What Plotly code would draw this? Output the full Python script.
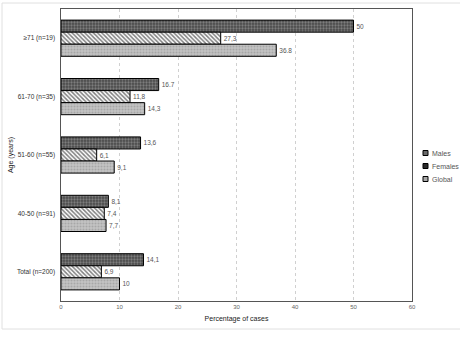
import plotly.graph_objects as go

categories = ["≥71 (n=19)", "61-70 (n=35)", "51-60 (n=55)", "40-50 (n=91)", "Total (n=200)"]
series_names = ["Males", "Females", "Global"]
males = [50, 16.7, 13.6, 8.1, 14.1]
females = [27.3, 11.8, 6.1, 7.4, 6.9]
global_ = [36.8, 14.3, 9.1, 7.7, 10]
males_lbl = ["50", "16.7", "13,6", "8,1", "14,1"]
females_lbl = ["27,3", "11,8", "6,1", "7,4", "6,9"]
global_lbl = ["36.8", "14,3", "9,1", "7,7", "10"]
x_ticks = [0, 10, 20, 30, 40, 50, 60]

FONT = "Liberation Sans"
fig = go.Figure()
patterns = [
    dict(shape=".", bgcolor="#4a4a4a", fgcolor="#b0b0b0", size=3, solidity=0.45),
    dict(shape="\\", bgcolor="#ffffff", fgcolor="#000000", size=3, solidity=0.5),
    dict(shape=".", bgcolor="#c4c4c4", fgcolor="#8a8a8a", size=3, solidity=0.4),
]
legend_fill = ["#6a6a6a", "#2a2a2a", "#a8a8a8"]
for name, vals, lbl, pat in zip(series_names, [males, females, global_],
                                [males_lbl, females_lbl, global_lbl], patterns):
    fig.add_trace(go.Bar(
        y=categories, x=vals, name=name, orientation="h",
        text=lbl, textposition="outside", cliponaxis=False, showlegend=False,
        textfont=dict(size=6.5, color="#555555", family=FONT),
        marker=dict(color=pat["bgcolor"], pattern=pat, line=dict(color="#000000", width=1)),
    ))

# custom compact legend (small squares + labels), as in the reference
PW, PH = 351.0, 292.0
shapes = [dict(type="rect", xref="paper", yref="paper",
               x0=-59 / PW, x1=1.2, y0=-28 / PH, y1=1 + 6 / PH,
               line=dict(color="#e0e0e0", width=1), layer="below")]
annotations = []
leg_y = [153, 166, 179]  # pixel centres
for name, col, py in zip(series_names, legend_fill, leg_y):
    yc = (301 - py) / PH
    shapes.append(dict(type="rect", xref="paper", yref="paper",
                       x0=(423 - 61) / PW, x1=(428 - 61) / PW,
                       y0=yc - 2.5 / PH, y1=yc + 2.5 / PH,
                       fillcolor=col, line=dict(color="#000000", width=1)))
    annotations.append(dict(xref="paper", yref="paper", x=(430 - 61) / PW, y=yc,
                            xanchor="left", yanchor="middle", showarrow=False,
                            text=name, font=dict(size=7, color="#555555", family=FONT)))

fig.update_layout(
    width=460, height=338,
    margin=dict(l=61, r=48, t=9, b=37, autoexpand=False),
    paper_bgcolor="white", plot_bgcolor="white",
    barmode="group", bargap=0.38, bargroupgap=0,
    font=dict(family=FONT, size=7, color="#555555"),
    showlegend=False,
    xaxis=dict(range=[0, 60], tickvals=x_ticks, showgrid=True, gridcolor="#d0d0d0",
               griddash="dot", gridwidth=1, zeroline=False, showline=True, linecolor="#555555",
               linewidth=1, mirror=True, ticks="", tickfont=dict(size=6, color="#666666"),
               title=dict(text="Percentage of cases", font=dict(size=7, color="#222222"), standoff=6)),
    yaxis=dict(autorange="reversed", showline=True, linecolor="#555555", linewidth=1, mirror=True,
               ticks="", tickfont=dict(size=6.5, color="#333333"), ticksuffix="  ",
               title=dict(text="Age (years)", font=dict(size=7, color="#222222"), standoff=2)),
    shapes=shapes,
    annotations=annotations,
)
fig.write_html("out.html")
